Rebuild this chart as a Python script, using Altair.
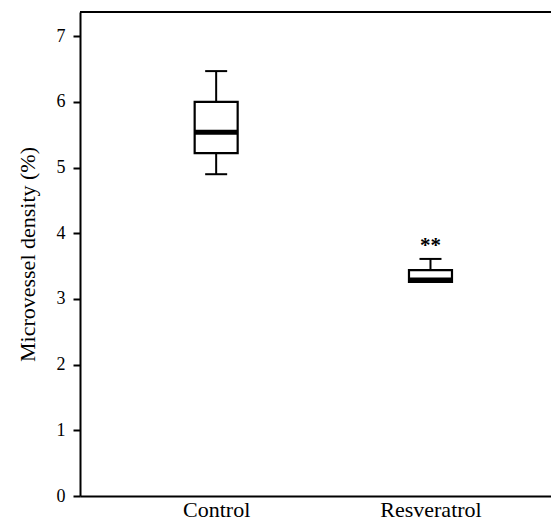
import altair as alt
import pandas as pd

groups = ["Control", "Resveratrol"]
positions = [1, 2]
whisker_low = [4.90, 3.26]
q1 = [5.22, 3.26]
median = [5.54, 3.29]
q3 = [6.00, 3.44]
whisker_high = [6.47, 3.61]
sig_labels = ["", "**"]
sig_y = [None, 3.88]

df = pd.DataFrame({
    "group": groups, "pos": positions, "lo": whisker_low, "q1": q1,
    "med": median, "q3": q3, "hi": whisker_high,
})
sig = pd.DataFrame({"pos": positions, "label": sig_labels, "y": sig_y}).dropna()

FONT = "Liberation Serif"
label_expr = " : ".join(
    [f"datum.value == {p} ? '{g}'" for p, g in zip(positions, groups)]
) + " : ''"

xscale = alt.Scale(domain=[0.388, 2.539], nice=False, zero=False)
yscale = alt.Scale(domain=[0, 7.37], nice=False)

x = alt.X("pos:Q", scale=xscale, title=None,
          axis=alt.Axis(values=positions, labelExpr=label_expr, ticks=False))
y = alt.Y("lo:Q", scale=yscale, title="Microvessel density (%)",
          axis=alt.Axis(values=list(range(0, 8)), format="d"))

base = alt.Chart(df)

whisk = base.mark_rule(color="black", strokeWidth=2).encode(
    x=x, y=y, y2="hi:Q")
box = base.mark_bar(fill="white", stroke="black", strokeWidth=2.2, size=43,
                    opacity=1).encode(x="pos:Q", y="q1:Q", y2="q3:Q")
cap_lo = base.mark_tick(color="black", orient="horizontal", size=22, thickness=2,
                        opacity=1).encode(x="pos:Q", y="lo:Q")
cap_hi = base.mark_tick(color="black", orient="horizontal", size=22, thickness=2,
                        opacity=1).encode(x="pos:Q", y="hi:Q")
med = base.mark_tick(color="black", orient="horizontal", size=43, thickness=5,
                     opacity=1).encode(x="pos:Q", y="med:Q")
stars = alt.Chart(sig).mark_text(font=FONT, fontSize=21, fontWeight="bold",
                                 color="black", baseline="middle", dy=5).encode(
    x="pos:Q", y="y:Q", text="label:N")
frame = alt.Chart(df).mark_rule(color="black", strokeWidth=2).encode(
    x=alt.value(0), x2=alt.value(471), y=alt.value(0))

chart = alt.layer(whisk, box, cap_lo, cap_hi, med, stars, frame).properties(
    width=471, height=484,
    autosize=alt.AutoSizeParams(type="none"),
    padding={"left": 72, "top": 4, "right": 0, "bottom": 30},
).configure_view(stroke=None).configure_axis(
    grid=False, domainColor="black", domainWidth=2, tickColor="black",
    tickWidth=2, labelFont=FONT, labelColor="black", titleFont=FONT,
    titleFontWeight="normal", titleColor="black",
).configure_axisX(
    labelFontSize=22, labelBaseline="alphabetic", labelPadding=20,
).configure_axisY(
    labelFontSize=18, labelPadding=8, tickSize=7, titleFontSize=22,
    titlePadding=17,
)

chart.save("out.html", embed_options={"renderer": "svg", "actions": False})
